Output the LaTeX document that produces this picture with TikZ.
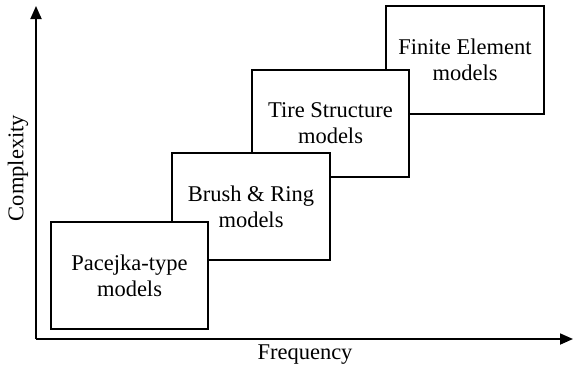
\documentclass[tikz,border=0pt]{standalone}
\usepackage{fontspec}
\setmainfont{Liberation Serif}
\usetikzlibrary{arrows.meta}
\begin{document}
\begin{tikzpicture}[x=1pt,y=-1pt,
  model/.style={draw, line width=2.2pt, fill=white, align=center,
    font=\fontsize{22.5}{26}\selectfont, inner sep=0pt},
  axis/.style={line width=1.8pt, -{Triangle[length=13pt,width=11pt]}},
  axlabel/.style={font=\fontsize{22.5}{26}\selectfont}]
\useasboundingbox (0,0) rectangle (573,370);
% axes
\coordinate (O) at (36,339);
\coordinate (ytop) at (36,6);
\coordinate (xend) at (573,339);
\draw[axis] (O) -- (ytop);
\draw[axis] (O) -- (xend);
\node[axlabel, rotate=90] (ylab) at (18,168) {Complexity};
\node[axlabel] (xlab) at (305,355) {Frequency};
% model boxes, back to front
\node[model, minimum width=158pt, minimum height=108pt] (fe) at (465,60) {Finite Element\\models};
\node[model, minimum width=157pt, minimum height=107pt] (ts) at (330.5,123.5) {Tire Structure\\models};
\node[model, minimum width=158pt, minimum height=107pt] (br) at (251,206.5) {Brush \& Ring\\models};
\node[model, minimum width=157pt, minimum height=107pt] (pt) at (129.5,275.5) {Pacejka-type\\models};
\end{tikzpicture}
\end{document}
